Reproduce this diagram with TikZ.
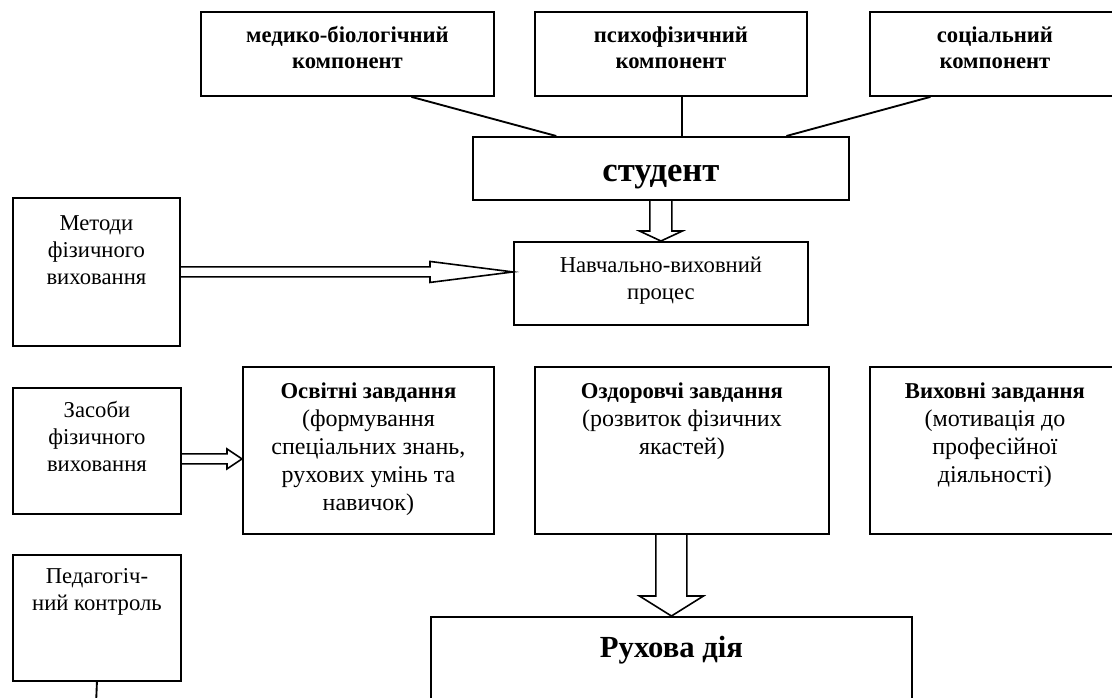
\documentclass[tikz,border=0pt]{standalone}
\usepackage{fontspec}
\setmainfont{Liberation Serif}
\usetikzlibrary{calc}

\newdimen\pxu \pxu=0.75pt
% text of a box: width, height, first baseline (px), lines
\newcommand{\boxtxt}[4]{\parbox[t][#2\pxu][t]{#1\pxu}{\centering\rule{0pt}{#3\pxu}#4}}
% hollow block arrow: from, tip, shaft half-width, head half-width, head length (px)
\newcommand{\fatarrow}[5]{%
  \draw[fat] let \p1=(#1), \p2=(#2),
    \n1={atan2(\y2-\y1,\x2-\x1)}, \n2={veclen(\x2-\x1,\y2-\y1)} in
    ([shift={(\p1)},rotate=\n1]0pt,#3*0.75pt)
    -- ([shift={(\p1)},rotate=\n1]\n2-#5*0.75pt,#3*0.75pt)
    -- ([shift={(\p1)},rotate=\n1]\n2-#5*0.75pt,#4*0.75pt)
    -- ([shift={(\p1)},rotate=\n1]\n2,0pt)
    -- ([shift={(\p1)},rotate=\n1]\n2-#5*0.75pt,-#4*0.75pt)
    -- ([shift={(\p1)},rotate=\n1]\n2-#5*0.75pt,-#3*0.75pt)
    -- ([shift={(\p1)},rotate=\n1]0pt,-#3*0.75pt);}
\newcommand{\task}[1]{{\fontsize{17}{21}\selectfont\bfseries #1}}

\tikzset{
  blk/.style={draw,line width=1.4pt,anchor=north west,inner sep=0pt},
  link/.style={line width=1.4pt},
  fat/.style={line width=1.2pt,line join=miter},
  txt/.style={font=\fontsize{17}{20.25}\selectfont},
  tasktxt/.style={font=\fontsize{18}{21}\selectfont},
  hd/.style={font=\bfseries\fontsize{17}{19.5}\selectfont},
  big/.style={font=\bfseries\fontsize{26}{30}\selectfont},
}

\begin{document}
\begin{tikzpicture}[x=0.75pt,y=-0.75pt]
\useasboundingbox (0,0) rectangle (1112,697);
\clip (0,0) rectangle (1112,697);
\fill[white] (0,0) rectangle (1112,697);

% components of the student
\node[blk,hd] (med) at (200,11) {\boxtxt{293}{84}{31}{медико-біологічний\\компонент}};
\node[blk,hd] (psy) at (534,11) {\boxtxt{272}{84}{31}{психофізичний\\компонент}};
\node[blk,hd] (soc) at (869,11) {\boxtxt{250}{84}{31}{соціальний\\компонент}};
\node[blk,big] (stud) at (472,136) {\boxtxt{376}{63}{45}{студент}};

\draw[link] ($(med.south west)!0.717!(med.south east)$) -- ($(stud.north west)!0.223!(stud.north east)$);
\draw[link] ($(stud.north west)!0.556!(stud.north east)$) coordinate (psyin) -- (psyin |- psy.south);
\draw[link] ($(soc.south west)!0.244!(soc.south east)$) -- ($(stud.north west)!0.832!(stud.north east)$);

% left column
\node[blk,txt] (metod) at (12,197) {\boxtxt{167}{148}{33}{Методи\\фізичного\\виховання}};
\node[blk,txt] (zasob) at (12,387) {\boxtxt{168}{126}{30}{Засоби\\фізичного\\виховання}};
\node[blk,txt] (ped) at (12,554) {\boxtxt{168}{126}{29}{Педагогіч-\\ний контроль}};
\coordinate (pedend) at (96,705);
\draw[link] (ped.south) -- (pedend);

\node[blk,txt] (navch) at (513,241) {\boxtxt{294}{83}{31}{Навчально-виховний\\процес}};

% tasks
\node[blk,tasktxt] (osv) at (242,366) {\boxtxt{251}{167}{32}{\task{Освітні завдання}\\(формування\\спеціальних знань,\\рухових умінь та\\навичок)}};
\node[blk,tasktxt] (zdor) at (534,366) {\boxtxt{294}{167}{32}{\task{Оздоровчі завдання}\\(розвиток фізичних\\якастей)}};
\node[blk,tasktxt] (vyh) at (869,366) {\boxtxt{250}{167}{32}{\task{Виховні завдання}\\(мотивація до\\професійної\\діяльності)}};

\node[blk,big] (ruh) at (430,616) {\boxtxt{481}{110}{41}{\fontsize{23}{28}\selectfont Рухова дія}};

% block arrows
\fatarrow{stud.south}{navch.north}{11}{21.5}{10}
\fatarrow{metod.east}{metod.east -| navch.west}{5}{10.5}{83}
\coordinate (zasobout) at ($(zasob.east)+(0,8)$);
\fatarrow{zasobout}{zasobout -| osv.west}{5}{10}{15}
\fatarrow{ruh.north |- zdor.south}{ruh.north}{15.5}{32}{20}
\end{tikzpicture}
\end{document}
